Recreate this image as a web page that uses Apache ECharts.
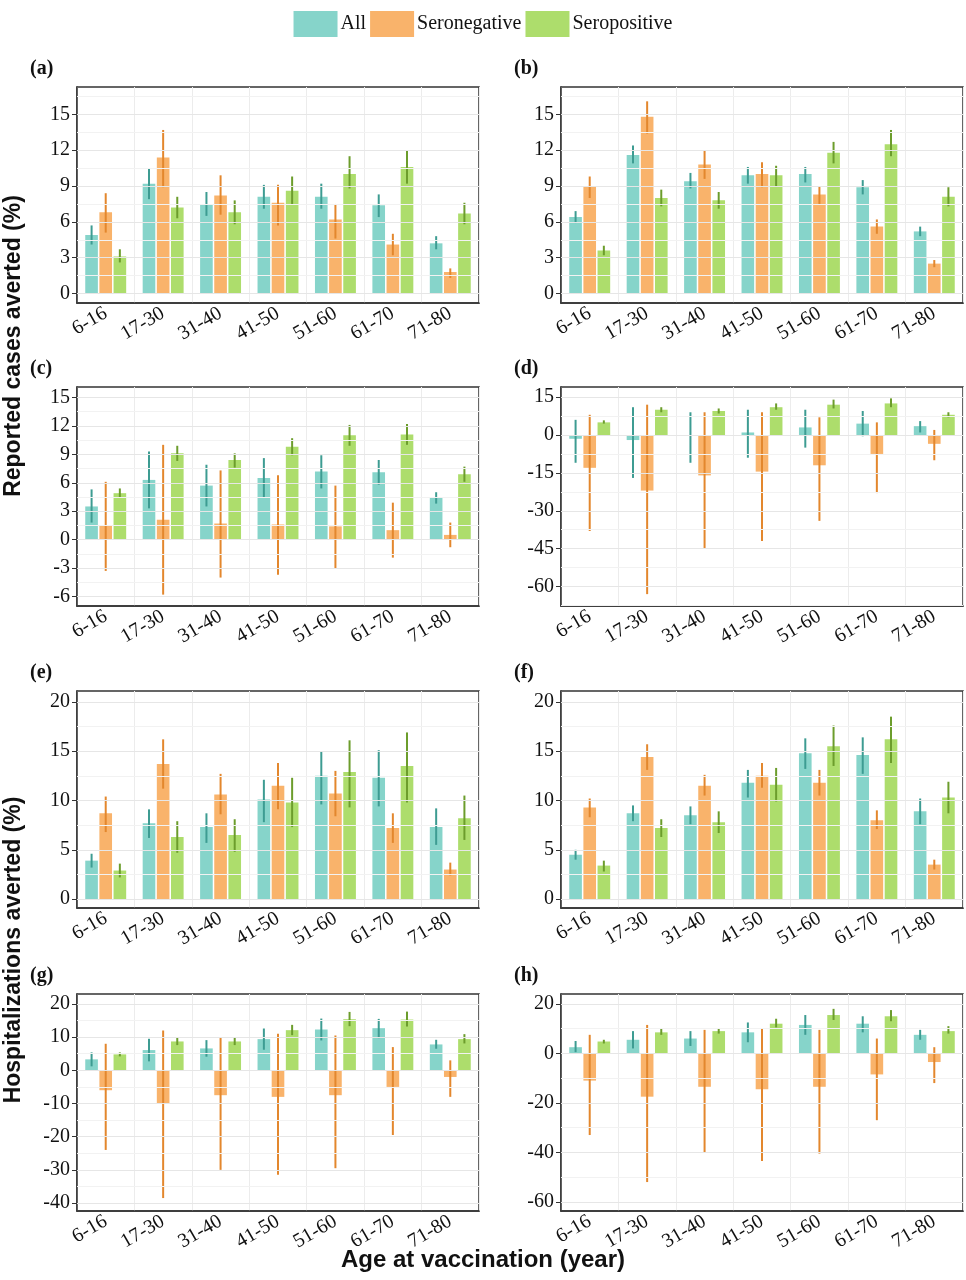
<!DOCTYPE html>
<html>
<head>
<meta charset="utf-8">
<script src="https://cdn.jsdelivr.net/npm/echarts@6/dist/echarts.min.js"></script>
<style>html,body{margin:0;padding:0;background:#fff}#c{width:966px;height:1280px}</style>
</head>
<body>
<div id="c"></div>
<script>
// age groups
const ages = ['6-16', '17-30', '31-40', '41-50', '51-60', '61-70', '71-80']
const seriesNames = ['All', 'Seronegative', 'Seropositive']

// each entry: [estimate, lower, upper]
const aAll = [[4.9,4.1,5.7],[9.2,7.9,10.5],[7.5,6.5,8.5],[8.1,7.1,9.1],[8.1,7.1,9.2],[7.4,6.4,8.3],[4.2,3.7,4.8]]
const aNeg = [[6.8,5.1,8.4],[11.4,8.9,13.7],[8.2,6.6,9.9],[7.6,5.7,9.1],[6.2,4.6,7.5],[4.1,3.2,5.0],[1.8,1.3,2.1]]
const aPos = [[3.1,2.6,3.7],[7.2,6.3,8.1],[6.8,5.8,7.8],[8.6,7.5,9.8],[10.0,8.8,11.5],[10.6,9.2,12.0],[6.7,5.8,7.6]]

const bAll = [[6.4,5.9,6.9],[11.6,10.9,12.4],[9.4,8.8,10.1],[9.9,9.2,10.6],[10.0,9.3,10.6],[8.9,8.3,9.5],[5.2,4.8,5.6]]
const bNeg = [[9.0,8.0,9.8],[14.8,13.4,16.1],[10.8,9.6,12.0],[10.0,8.9,11.0],[8.3,7.5,9.0],[5.6,5.0,6.2],[2.5,2.2,2.8]]
const bPos = [[3.6,3.2,4.0],[8.0,7.3,8.7],[7.8,7.1,8.5],[9.9,9.0,10.7],[11.8,10.9,12.7],[12.5,11.5,13.7],[8.1,7.3,8.9]]

const cAll = [[3.5,1.8,5.3],[6.3,3.3,9.3],[5.7,3.5,7.9],[6.5,4.5,8.6],[7.2,5.4,8.9],[7.1,5.8,8.4],[4.4,3.8,5.0]]
const cNeg = [[1.5,-3.3,6.1],[2.1,-5.8,10.0],[1.7,-4.0,7.3],[1.6,-3.7,6.8],[1.4,-3.0,5.7],[1.0,-1.9,3.9],[0.5,-0.8,1.8]]
const cPos = [[4.9,4.4,5.4],[9.1,8.3,9.9],[8.4,7.6,9.1],[9.8,8.9,10.7],[11.0,9.9,12.1],[11.1,10.0,12.2],[6.9,6.1,7.7]]

const dAll = [[-1.5,-11,6],[-2,-17,11],[0,-11,9],[1,-9,10],[3,-5,10],[4.5,-0.5,9.5],[3.5,1,5.5]]
const dNeg = [[-13,-38,8],[-22,-63,12],[-16,-45,9],[-14.5,-42,9],[-12,-34,7],[-7.5,-23,5],[-3.5,-10,2]]
const dPos = [[5,4.5,5.8],[10,9,11],[9.5,8.5,10.5],[11,10,12.5],[12,10.5,14],[12.5,11,14.5],[8,7,9]]

const eAll = [[3.9,3.2,4.6],[7.7,6.2,9.1],[7.3,5.7,8.7],[10.1,7.8,12.1],[12.5,9.6,15.0],[12.3,9.4,15.1],[7.3,5.5,9.2]]
const eNeg = [[8.7,6.8,10.4],[13.7,11.2,16.2],[10.6,8.6,12.7],[11.5,9.1,13.8],[10.7,8.4,13.0],[7.2,5.7,8.7],[3.0,2.4,3.7]]
const ePos = [[2.9,2.2,3.6],[6.3,4.7,7.9],[6.5,4.8,8.1],[9.8,7.3,12.3],[12.9,9.3,16.1],[13.5,9.8,16.9],[8.2,6.0,10.5]]

const fAll = [[4.5,4.0,5.0],[8.7,7.9,9.5],[8.5,7.6,9.4],[11.8,10.3,13.1],[14.8,13.2,16.3],[14.6,12.7,16.4],[8.9,7.6,10.2]]
const fNeg = [[9.3,8.3,10.2],[14.4,13.1,15.7],[11.5,10.5,12.6],[12.5,11.3,13.8],[11.8,10.5,13.1],[8.0,7.1,9.0],[3.5,3.0,4.0]]
const fPos = [[3.4,2.8,3.9],[7.2,6.3,8.1],[7.8,6.7,8.9],[11.6,9.9,13.3],[15.5,13.5,17.6],[16.2,13.8,18.5],[10.3,8.7,11.9]]

const gAll = [[3.3,1.2,5.4],[6.1,2.7,9.5],[6.6,4.1,9.1],[9.4,6.2,12.6],[12.3,9.0,15.6],[12.7,9.7,15.5],[7.8,6.5,9.2]]
const gNeg = [[-6,-24,8],[-10,-38.5,12],[-7.5,-30,10],[-8,-31.5,11],[-7.5,-29.5,10.5],[-5,-19.5,7],[-2,-8,3]]
const gPos = [[4.8,4.2,5.4],[8.7,7.6,9.8],[8.7,7.6,9.9],[12.1,10.6,13.7],[15.4,13.3,17.6],[15.3,13.2,17.7],[9.4,8.1,10.9]]

const hAll = [[2.5,0.5,5],[5.5,2,9],[6,3,9],[8.5,4.5,12.5],[11.5,7.5,15.5],[12,8.5,15],[7.5,5.5,9.5]]
const hNeg = [[-11,-33,7.5],[-17.5,-52,11.5],[-13.5,-40,9.5],[-14.5,-43.5,10],[-13.5,-40.5,9.5],[-8.5,-27,6],[-3.5,-12,2.5]]
const hPos = [[4.8,4,5.5],[8.5,7.5,10],[9,8,10],[12,10.5,14],[15.5,13.5,18],[15,13,17.5],[9,8,11]]

// y tick labels per panel
const ticksA = [0, 3, 6, 9, 12, 15]
const ticksC = [-6, -3, 0, 3, 6, 9, 12, 15]
const ticksD = [-60, -45, -30, -15, 0, 15]
const ticksE = [0, 5, 10, 15, 20]
const ticksG = [-40, -30, -20, -10, 0, 10, 20]
const ticksH = [-60, -40, -20, 0, 20]

const barColors = ['#86d4ca', '#f9b36b', '#addd6c']
const errColors = ['#3d9c92', '#e3872d', '#6c9d2c']

const panels = [
  { tag: '(a)', data: [aAll, aNeg, aPos], ticks: ticksA, min: -0.8, max: 17.3, left: 77, top: 87, h: 216 },
  { tag: '(b)', data: [bAll, bNeg, bPos], ticks: ticksA, min: -0.8, max: 17.3, left: 561, top: 87, h: 216 },
  { tag: '(c)', data: [cAll, cNeg, cPos], ticks: ticksC, min: -7.0, max: 16.1, left: 77, top: 387, h: 219 },
  { tag: '(d)', data: [dAll, dNeg, dPos], ticks: ticksD, min: -67.7, max: 19, left: 561, top: 387, h: 219 },
  { tag: '(e)', data: [eAll, eNeg, ePos], ticks: ticksE, min: -0.9, max: 21.1, left: 77, top: 691, h: 217 },
  { tag: '(f)', data: [fAll, fNeg, fPos], ticks: ticksE, min: -0.9, max: 21.1, left: 561, top: 691, h: 217 },
  { tag: '(g)', data: [gAll, gNeg, gPos], ticks: ticksG, min: -42.4, max: 23, left: 77, top: 994, h: 217 },
  { tag: '(h)', data: [hAll, hNeg, hPos], ticks: ticksH, min: -63.7, max: 24, left: 561, top: 994, h: 217 }
]

const W = 402
const grid = [], xAxis = [], yAxis = [], series = [], graphic = []
const pitch = 0.246
const tickFont = 'Liberation Sans Narrow'

panels.forEach((p, i) => {
  grid.push({ left: p.left, top: p.top, width: W, height: p.h, show: true, borderColor: '#333', borderWidth: 1.5, backgroundColor: '#fff' })
  xAxis.push({
    type: 'category', gridIndex: i, data: ages,
    axisLine: { onZero: false, lineStyle: { color: '#333', width: 1.5 } },
    axisTick: { alignWithLabel: true, length: 5, lineStyle: { color: '#333' } },
    axisLabel: { rotate: 30, color: '#111', fontSize: 20, fontFamily: tickFont, margin: 9, interval: 0 },
    splitLine: { show: true, interval: 0, lineStyle: { color: '#ececec', width: 1 } }
  })
  yAxis.push({
    type: 'value', gridIndex: i, min: p.min, max: p.max,
    axisLine: { show: true, lineStyle: { color: '#333', width: 1.5 } },
    axisTick: { show: true, customValues: p.ticks, length: 5, lineStyle: { color: '#333' } },
    axisLabel: { customValues: p.ticks, color: '#111', fontSize: 20, fontFamily: tickFont, margin: 7 },
    splitLine: { show: false }
  })
  // grid lines: major at ticks, minor halfway
  const step = p.ticks[1] - p.ticks[0]
  const gl = []
  p.ticks.forEach(t => {
    gl.push({ yAxis: t, lineStyle: { color: '#e6e6e6', width: 1.2, type: 'solid' } })
    if (t + step / 2 < p.max) gl.push({ yAxis: t + step / 2, lineStyle: { color: '#f2f2f2', width: 1, type: 'solid' } })
    if (t === p.ticks[0] && t - step / 2 > p.min) gl.push({ yAxis: t - step / 2, lineStyle: { color: '#f2f2f2', width: 1, type: 'solid' } })
  })
  series.push({
    type: 'line', xAxisIndex: i, yAxisIndex: i, data: [], z: 1,
    markLine: { silent: true, symbol: 'none', label: { show: false }, lineStyle: { type: 'solid' }, data: gl, animation: false }
  })
  p.data.forEach((d, k) => {
    series.push({
      name: seriesNames[k], type: 'bar', xAxisIndex: i, yAxisIndex: i, z: 2,
      barWidth: '22%', barGap: '12%',
      itemStyle: { color: barColors[k] },
      data: d.map(v => v[0])
    })
  })
  p.data.forEach((d, k) => {
    series.push({
      name: seriesNames[k], type: 'custom', xAxisIndex: i, yAxisIndex: i, z: 3,
      data: d.map((v, j) => [j, v[1], v[2]]),
      renderItem: (params, api) => {
        const a = api.coord([api.value(0), api.value(1)])
        const b = api.coord([api.value(0), api.value(2)])
        const bw = api.size([1, 0])[0]
        const x = a[0] + (k - 1) * pitch * bw
        return { type: 'line', shape: { x1: x, y1: a[1], x2: x, y2: b[1] }, style: { stroke: errColors[k], lineWidth: 2 } }
      }
    })
  })
  graphic.push({ type: 'text', left: p.left - 47, top: p.top - 28, style: { text: p.tag, font: 'bold 20px Liberation Sans Narrow', fill: '#111' } })
})

graphic.push(
  { type: 'text', rotation: Math.PI / 2, style: { text: 'Reported cases averted (%)', font: 'bold 23px Liberation Sans', fill: '#111', align: 'center', verticalAlign: 'middle', x: 0, y: 0 }, x: 14, y: 346 },
  { type: 'text', rotation: Math.PI / 2, style: { text: 'Hospitalizations averted (%)', font: 'bold 23px Liberation Sans', fill: '#111', align: 'center', verticalAlign: 'middle', x: 0, y: 0 }, x: 14, y: 950 },
  { type: 'text', left: 'center', top: 1248, style: { text: 'Age at vaccination (year)', font: 'bold 24px Liberation Sans', fill: '#111' } }
)

const chart = echarts.init(document.getElementById('c'))
chart.setOption({
  animation: false,
  legend: {
    top: 6, left: 'center', itemWidth: 44, itemHeight: 26, itemGap: 4,
    data: seriesNames, icon: 'rect',
    textStyle: { fontSize: 20, color: '#111', fontFamily: tickFont, padding: [0, 0, 0, -2] }
  },
  grid, xAxis, yAxis, series, graphic
})
</script>
</body>
</html>
